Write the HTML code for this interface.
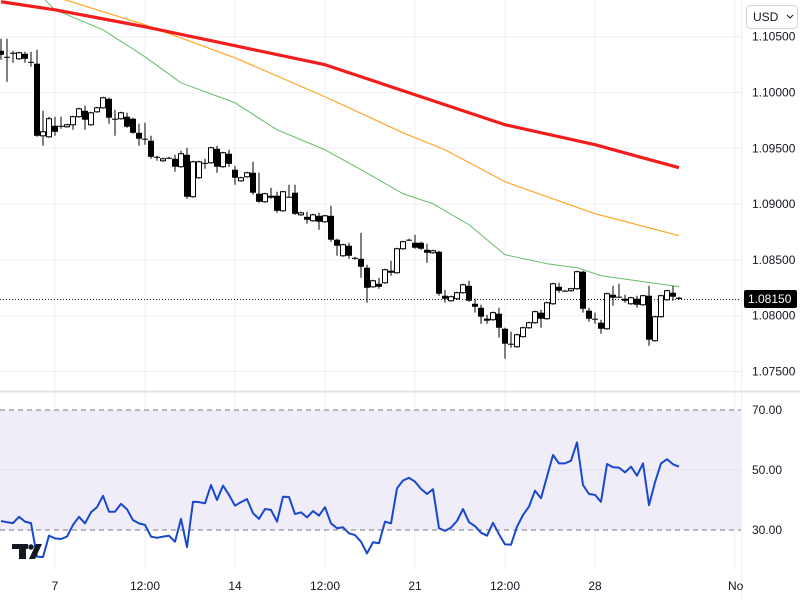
<!DOCTYPE html>
<html><head><meta charset="utf-8">
<style>
body{margin:0;background:#fff;font-family:"Liberation Sans",sans-serif;}
#wrap{position:relative;width:800px;height:600px;overflow:hidden;}
svg{position:absolute;left:0;top:0;}
</style></head>
<body>
<div id="wrap">
<svg id="chart" width="800" height="600"></svg>
</div>
<script>
const opens=[1.10374,1.10320,1.10356,1.10302,1.10347,1.10275,1.10258,1.09612,1.09603,1.09702,1.09702,1.09693,1.09711,1.09783,1.09836,1.09711,1.09827,1.09863,1.09944,1.09765,1.09765,1.09783,1.09765,1.09639,1.09586,1.09568,1.09424,1.09388,1.09415,1.09406,1.09335,1.09442,1.09066,1.09236,1.09370,1.09370,1.09496,1.09335,1.09451,1.09308,1.09209,1.09245,1.09281,1.09093,1.09021,1.09075,1.09075,1.08940,1.09066,1.09102,1.08904,1.08886,1.08851,1.08895,1.08842,1.08895,1.08681,1.08537,1.08627,1.08519,1.08510,1.08430,1.08259,1.08286,1.08295,1.08403,1.08385,1.08600,1.08681,1.08654,1.08654,1.08591,1.08564,1.08573,1.08179,1.08134,1.08152,1.08206,1.08268,1.08107,1.08071,1.07973,1.07964,1.08018,1.07883,1.07749,1.07722,1.07812,1.07892,1.07937,1.08027,1.07973,1.08107,1.08259,1.08224,1.08224,1.08242,1.08394,1.08045,1.07973,1.07937,1.07883,1.08188,1.08170,1.08152,1.08107,1.08152,1.08098,1.08179,1.07776,1.07991,1.08143,1.08206,1.08161];
const highs=[1.10482,1.10482,1.10374,1.10365,1.10365,1.10365,1.10383,1.09836,1.09783,1.09783,1.09783,1.09720,1.09792,1.09863,1.09881,1.09827,1.09872,1.09962,1.09953,1.09845,1.09827,1.09818,1.09774,1.09720,1.09729,1.09612,1.09433,1.09415,1.09424,1.09442,1.09478,1.09505,1.09388,1.09388,1.09406,1.09514,1.09523,1.09469,1.09487,1.09344,1.09245,1.09290,1.09379,1.09281,1.09102,1.09146,1.09111,1.09120,1.09173,1.09173,1.08931,1.08931,1.08913,1.08922,1.08904,1.08985,1.08690,1.08645,1.08654,1.08528,1.08743,1.08457,1.08322,1.08340,1.08421,1.08492,1.08609,1.08672,1.08690,1.08725,1.08663,1.08645,1.08591,1.08582,1.08233,1.08179,1.08215,1.08286,1.08313,1.08152,1.08098,1.08009,1.08036,1.08071,1.07892,1.07856,1.07838,1.07901,1.07946,1.08045,1.08053,1.08125,1.08295,1.08295,1.08233,1.08250,1.08403,1.08403,1.08071,1.08027,1.07964,1.08206,1.08268,1.08286,1.08188,1.08170,1.08179,1.08188,1.08268,1.08000,1.08188,1.08233,1.08268,1.08170];
const lows=[1.10293,1.10096,1.10267,1.10293,1.10267,1.10231,1.09603,1.09523,1.09594,1.09612,1.09675,1.09684,1.09666,1.09774,1.09666,1.09702,1.09818,1.09854,1.09720,1.09612,1.09756,1.09684,1.09630,1.09523,1.09532,1.09406,1.09388,1.09379,1.09406,1.09290,1.09326,1.09048,1.09057,1.09227,1.09317,1.09361,1.09281,1.09326,1.09335,1.09173,1.09200,1.09236,1.09084,1.09012,1.09012,1.09048,1.08922,1.08931,1.09057,1.08904,1.08895,1.08824,1.08842,1.08770,1.08833,1.08663,1.08537,1.08528,1.08510,1.08501,1.08340,1.08116,1.08250,1.08242,1.08286,1.08358,1.08376,1.08591,1.08672,1.08600,1.08591,1.08475,1.08555,1.08179,1.08116,1.08125,1.08143,1.08197,1.08125,1.08027,1.07928,1.07928,1.07955,1.07803,1.07614,1.07713,1.07713,1.07803,1.07883,1.07928,1.07892,1.07964,1.08098,1.08206,1.08215,1.08215,1.08233,1.08027,1.07946,1.07928,1.07838,1.07874,1.08089,1.08161,1.08116,1.08098,1.08071,1.08089,1.07731,1.07767,1.07982,1.08134,1.08134,1.08143];
const closes=[1.10338,1.10316,1.10352,1.10356,1.10302,1.10271,1.09612,1.09648,1.09765,1.09648,1.09698,1.09711,1.09783,1.09854,1.09756,1.09818,1.09863,1.09953,1.09774,1.09760,1.09818,1.09693,1.09639,1.09586,1.09577,1.09424,1.09420,1.09406,1.09411,1.09335,1.09451,1.09066,1.09379,1.09379,1.09366,1.09505,1.09335,1.09460,1.09361,1.09236,1.09236,1.09281,1.09102,1.09021,1.09093,1.09057,1.08940,1.09111,1.09061,1.08913,1.08922,1.08860,1.08904,1.08842,1.08895,1.08681,1.08627,1.08636,1.08537,1.08515,1.08439,1.08250,1.08313,1.08259,1.08412,1.08385,1.08600,1.08663,1.08676,1.08609,1.08600,1.08564,1.08582,1.08197,1.08152,1.08170,1.08206,1.08277,1.08134,1.08080,1.07991,1.07955,1.08027,1.07892,1.07749,1.07740,1.07829,1.07892,1.07937,1.08036,1.07973,1.08116,1.08286,1.08224,1.08219,1.08242,1.08394,1.08062,1.07973,1.07969,1.07883,1.08197,1.08161,1.08165,1.08134,1.08161,1.08098,1.08179,1.07785,1.07991,1.08179,1.08224,1.08170,1.08150];
const ma200Idx=[0,9,24,39,54,69,84,99,113];
const ma200Val=[1.10813,1.10741,1.10589,1.10419,1.10249,1.09980,1.09711,1.09532,1.09326];
const ma100Idx=[9,24,39,54,67,74,84,99,113];
const ma100Val=[1.10858,1.10607,1.10311,1.09962,1.09639,1.09487,1.09200,1.08914,1.08717];
const ma50Idx=[7,9,17,24,30,39,46,54,60,67,72,78,84,91,96,100,106,113];
const ma50Val=[1.10849,1.10741,1.10562,1.10320,1.10087,1.09908,1.09666,1.09487,1.09308,1.09093,1.09003,1.08815,1.08546,1.08466,1.08430,1.08358,1.08313,1.08259];
const rsiVals=[33,32.6,32.3,34.4,32.8,32.3,21.1,21,28.1,27.2,27,27.8,31.7,34.4,32.2,35.9,37.6,41.4,36.1,36.1,38.7,36.9,33.3,32.2,31.7,27.8,27.4,27.8,28.1,26.1,33.7,24.3,39.4,39.3,38.9,45,40,44.8,41.7,38.1,39.3,40.3,35.6,33.7,37,36.7,32.8,41.1,41,35.3,35.9,34.2,36.3,34.8,37.6,32.2,30.6,30.9,28.9,28.3,26.1,22.2,25.9,25.6,32.8,32.2,43.9,46.5,47.4,46.1,43.7,42,43.6,30.6,29.7,30.8,33,37,32.6,31.3,29.1,28.1,32.4,28.6,25.2,25.1,31.1,35,37.8,43.1,40.6,47.8,55,52.2,52.2,53.1,59.2,45,42,41.7,39.4,52,50.9,50.8,49.2,51.1,48.1,52.2,38.3,45.9,52.2,53.6,51.9,51.1];
const priceTicks=[1.105,1.100,1.095,1.090,1.085,1.080,1.075];
const rsiTicks=[70,50,30];
const timeLabels=["7","12:00","14","12:00","21","12:00","28","No"];
const timeIdx=[9,24,39,54,69,84,99,122.3];

const NS="http://www.w3.org/2000/svg";
const svg=document.getElementById('chart');
const X=i=>1+6*i;
const Y=p=>315.7-(p-1.08)*11160;
const R=v=>470-(v-50)*3;
function mk(tag,attrs,parent){const e=document.createElementNS(NS,tag);for(const k in attrs)e.setAttribute(k,attrs[k]);(parent||svg).appendChild(e);return e;}

// RSI band
const band=mk('rect',{x:0,y:R(70),width:741,height:R(30)-R(70),fill:'#f0edf9'});


// grids
timeIdx.forEach((t,k)=>{
  const g=mk('line',{x1:X(t),x2:X(t),y1:0,y2:570,stroke:'#eeeff2','stroke-width':1});
  
  
});
priceTicks.forEach(p=>{
  const g=mk('line',{x1:0,x2:741,y1:Y(p),y2:Y(p),stroke:'#eeeff2','stroke-width':1});
  
  
});
const mid=mk('line',{x1:0,x2:741,y1:R(50),y2:R(50),stroke:'#e4e1ee','stroke-width':1});


[70,30].forEach(v=>{
  const l=mk('line',{x1:0,x2:741,y1:R(v),y2:R(v),stroke:'#787b86','stroke-width':1,'stroke-dasharray':'5,4'});
  
  
});
// pane separator & axis border
const sep=mk('line',{x1:0,x2:800,y1:391.5,y2:391.5,stroke:'#e0e3eb','stroke-width':2});


const ab=mk('line',{x1:741.5,x2:741.5,y1:0,y2:600,stroke:'#eeeff2','stroke-width':1});



// MAs
function maLine(idx,val,color,w,name){
  const d=idx.map((t,k)=>(k?'L':'M')+X(t)+','+Y(val[k])).join(' ');
  const p=mk('path',{d:d,fill:'none',stroke:color,'stroke-width':w,'stroke-linejoin':'round'});
  
  
}
maLine(ma50Idx,ma50Val,'#66bb6a',1,'ma50-line');
maLine(ma100Idx,ma100Val,'#ffa726',1.2,'ma100-line');
maLine(ma200Idx,ma200Val,'#f21d1d',3.2,'ma200-line');

// current price dotted line
const cp=closes[closes.length-1];
const dl=mk('line',{x1:0,x2:741,y1:Math.round(Y(cp))+0.5,y2:Math.round(Y(cp))+0.5,stroke:'#131722','stroke-width':1,'stroke-dasharray':'1,2'});



// candles
opens.forEach((o,i)=>{
  const c=closes[i],x=X(i);
  const g=mk('g',{});
  
  
  mk('line',{x1:x,x2:x,y1:Y(highs[i]),y2:Y(lows[i]),stroke:'#000','stroke-width':1},g);
  const top=Y(Math.max(o,c)),bot=Y(Math.min(o,c));
  const h=Math.max(1,bot-top);
  if(c>=o) mk('rect',{x:x-2.5,y:top,width:5,height:h,fill:'#fff',stroke:'#000','stroke-width':1},g);
  else mk('rect',{x:x-3,y:top,width:6,height:h,fill:'#000'},g);
});

// RSI line
const rd=rsiVals.map((v,i)=>(i?'L':'M')+X(i)+','+R(v)).join(' ');
const rl=mk('path',{d:rd,fill:'none',stroke:'#1848cc','stroke-width':2,'stroke-linejoin':'round'});



// axis labels
priceTicks.forEach(p=>{
  const t=mk('text',{x:752,y:Y(p)+4,'font-size':12,fill:'#131722'});
  t.textContent=p.toFixed(5);
  
  
});
rsiTicks.forEach(v=>{
  const t=mk('text',{x:752,y:R(v)+4,'font-size':12,fill:'#131722'});
  t.textContent=v.toFixed(2);
  
  
});
timeLabels.forEach((s,k)=>{
  const t=mk('text',{x:X(timeIdx[k]),y:590,'font-size':12,fill:'#131722','text-anchor':k===7?'start':'middle'});
  if(k===7) t.setAttribute('x',728);
  t.textContent=s;
  
  
});
// current price badge
const by=Math.round(Y(cp));
const bg=mk('g',{});


mk('rect',{x:744,y:by-9,width:53,height:18,rx:2,fill:'#000'},bg);
const bt=mk('text',{x:748,y:by+4,'font-size':12,fill:'#fff'},bg);
bt.textContent=cp.toFixed(5);
// USD selector
const us=mk('g',{});


mk('rect',{x:746.5,y:5.5,width:51,height:23,rx:4,fill:'#fff',stroke:'#d1d4dc'},us);
const ut=mk('text',{x:753,y:21,'font-size':12,fill:'#131722'},us);
ut.textContent='USD';
mk('path',{d:'M787,15 L790,18 L793,15',fill:'none',stroke:'#131722','stroke-width':1},us);
// logo
const lg=mk('g',{});


mk('rect',{x:12,y:544,width:16,height:5,fill:'#131722'},lg);
mk('rect',{x:19,y:544,width:7,height:15,fill:'#131722'},lg);
mk('circle',{cx:31,cy:547,r:2.7,fill:'#131722'},lg);
mk('path',{d:'M36,544 L42,544 L35,559 L29,559 Z',fill:'#131722'},lg);
</script>
</body></html>
